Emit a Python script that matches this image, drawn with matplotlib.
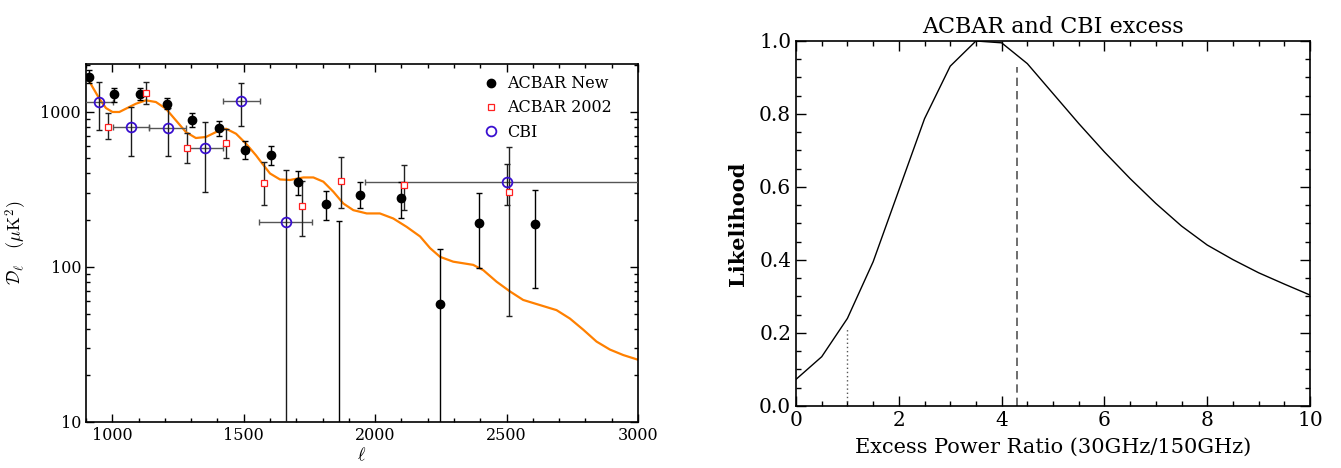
import matplotlib
matplotlib.use('Agg')  # без GUI
import matplotlib.pyplot as plt
from matplotlib.ticker import MultipleLocator, LogLocator, NullFormatter, FixedLocator, FixedFormatter

plt.rcParams['mathtext.fontset'] = 'cm'
plt.rcParams['font.family'] = ['DejaVu Serif']

# --- левая панель: модельный спектр ---
model_l = [900, 925, 951, 976, 1001, 1027, 1052, 1090, 1128, 1166, 1204, 1242, 1280,
           1318, 1356, 1395, 1433, 1471, 1509, 1547, 1566, 1600, 1638, 1676, 1727,
           1765, 1803, 1841, 1879, 1917, 1968, 2018, 2069, 2120, 2171, 2209, 2247,
           2297, 2373, 2411, 2462, 2513, 2563, 2627, 2690, 2741, 2792, 2842, 2893,
           2944, 3003]
model_d = [1718, 1443, 1213, 1056, 996, 996, 1046, 1126, 1184, 1155, 1046, 880, 740,
           677, 687, 740, 777, 721, 622, 523, 474, 400, 366, 363, 377,
           377, 354, 305, 256, 232, 221, 221, 205, 181, 157, 132, 116,
           108, 103, 95.3, 80.2, 69.4, 61.2, 56.7, 52.6, 46.4, 39.3, 33.0, 29.3,
           27.0, 25.1]

# ACBAR New
acbar_new_l = [911, 1005, 1104, 1207, 1304, 1405, 1504, 1603, 1705, 1812, 1862,
               1943, 2097, 2245, 2395, 2607]
acbar_new_d = [1667, 1295, 1295, 1121, 880, 785, 566, 523, 350, 253, 1,
               292, 277, 58, 193, 189]
acbar_new_lo = [1525, 1160, 1190, 1036, 793, 697, 496, 455, 289, 200, 1,
                238, 205, 1, 99, 73]
acbar_new_hi = [1858, 1428, 1430, 1231, 981, 875, 644, 598, 416, 310, 197,
                353, 353, 131, 300, 313]

# ACBAR 2002
acbar02_l = [984, 1127, 1283, 1431, 1578, 1722, 1871, 2109, 2510]
acbar02_d = [800, 1314, 583, 631, 348, 246, 359, 336, 305]
acbar02_lo = [664, 1121, 464, 503, 250, 158, 241, 232, 48]
acbar02_hi = [976, 1547, 732, 777, 476, 359, 508, 453, 594]

# CBI
cbi_l = [951, 1071, 1212, 1351, 1491, 1660, 2500]
cbi_d = [1160, 800, 781, 586, 1172, 194, 353]
cbi_lo = [762, 518, 518, 305, 809, 1, 250]
cbi_hi = [1561, 1077, 1051, 858, 1538, 420, 458]
cbi_lmin = [880, 1001, 1141, 1280, 1420, 1559, 1961]
cbi_lmax = [1001, 1141, 1280, 1420, 1562, 1758, 3100]

# --- правая панель: правдоподобие ---
ratio = [0.0, 0.5, 1.0, 1.5, 2.0, 2.5, 3.0, 3.5, 4.0, 4.5, 5.0,
         5.5, 6.0, 6.5, 7.0, 7.5, 8.0, 8.5, 9.0, 9.5, 10.0]
likelihood = [0.073, 0.135, 0.240, 0.395, 0.591, 0.787, 0.931, 1.0, 0.995, 0.938, 0.856,
              0.774, 0.696, 0.623, 0.555, 0.493, 0.441, 0.401, 0.365, 0.334, 0.304]
dashed_x, dashed_top = 4.3, 0.93
dotted_x, dotted_top = 1.0, 0.21


def _err(vals, lo, hi):
    return [[v - a for v, a in zip(vals, lo)], [b - v for v, b in zip(vals, hi)]]


fig = plt.figure(figsize=(13.41, 4.68), dpi=100)

# ---------- левая панель ----------
ax1 = fig.add_axes([0.0641, 0.0983, 0.4117, 0.7649])
ax1.plot(model_l, model_d, color='#ff8000', linewidth=1.6, zorder=2,
         solid_joinstyle='round')

# CBI: горизонтальные бины серым, вертикальные ошибки чёрным
ax1.errorbar(cbi_l, cbi_d, xerr=_err(cbi_l, cbi_lmin, cbi_lmax),
             fmt='none', ecolor='#555555', elinewidth=1.0, capsize=2.5, zorder=3)
ax1.errorbar(cbi_l, cbi_d, yerr=_err(cbi_d, cbi_lo, cbi_hi),
             fmt='none', ecolor='#1a1a1a', elinewidth=1.0, capsize=2.5, zorder=3)
ax1.errorbar(acbar02_l, acbar02_d, yerr=_err(acbar02_d, acbar02_lo, acbar02_hi),
             fmt='none', ecolor='#222222', elinewidth=1.0, capsize=2.5, zorder=3)
ax1.errorbar(acbar_new_l, acbar_new_d, yerr=_err(acbar_new_d, acbar_new_lo, acbar_new_hi),
             fmt='none', ecolor='black', elinewidth=1.0, capsize=2.5, zorder=3)

ax1.plot(acbar_new_l, acbar_new_d, 'o', color='black', markersize=6,
         label='ACBAR New', zorder=4)
ax1.plot(acbar02_l, acbar02_d, 's', markerfacecolor='white', markeredgecolor='#ff2020',
         markeredgewidth=0.9, markersize=4.5, label='ACBAR 2002', zorder=5)
ax1.plot(cbi_l, cbi_d, 'o', markerfacecolor='none', markeredgecolor='#3a10d0',
         markeredgewidth=1.3, markersize=7, label='CBI', zorder=5)

ax1.set_yscale('log')
ax1.set_xlim(900, 3000)
ax1.set_ylim(10, 2030)
ax1.xaxis.set_major_locator(MultipleLocator(500))
ax1.xaxis.set_minor_locator(MultipleLocator(100))
ax1.yaxis.set_major_locator(FixedLocator([10, 100, 1000]))
ax1.yaxis.set_major_formatter(FixedFormatter(['10', '100', '1000']))
ax1.yaxis.set_minor_locator(LogLocator(base=10, subs=range(2, 10)))
ax1.yaxis.set_minor_formatter(NullFormatter())
ax1.tick_params(which='both', direction='in', top=True, right=True, labelsize=11.5)
ax1.tick_params(which='major', length=6, width=1)
ax1.tick_params(which='minor', length=3, width=1)
for s in ax1.spines.values():
    s.set_linewidth(1.2)
ax1.set_xlabel(r'$\ell$', fontsize=13, labelpad=2)
ax1.set_ylabel(r'$\mathcal{D}_\ell\ \ \ (\mu{\rm K}^2)$', fontsize=13, labelpad=8)

ax1.legend(loc='upper left', bbox_to_anchor=(0.7, 1.0), frameon=False, fontsize=11.5,
           handlelength=0.9, handletextpad=0.6, labelspacing=0.45, borderaxespad=0.3,
           numpoints=1)

# ---------- правая панель ----------
ax2 = fig.add_axes([0.5936, 0.1325, 0.3833, 0.7799])
ax2.plot(ratio, likelihood, color='black', linewidth=1.0)
ax2.plot([dashed_x, dashed_x], [0, dashed_top], color='#555555', linewidth=1.2,
         linestyle=(0, (5, 3)))
ax2.plot([dotted_x, dotted_x], [0, dotted_top], color='#555555', linewidth=1.0,
         linestyle=(0, (1, 2)))

ax2.set_xlim(0, 10)
ax2.set_ylim(0, 1.0)
ax2.xaxis.set_major_locator(MultipleLocator(2))
ax2.xaxis.set_minor_locator(MultipleLocator(0.5))
ax2.yaxis.set_major_locator(MultipleLocator(0.2))
ax2.yaxis.set_minor_locator(MultipleLocator(0.05))
ax2.yaxis.set_major_formatter(matplotlib.ticker.FormatStrFormatter('%.1f'))
ax2.tick_params(which='both', direction='in', top=True, right=True, labelsize=14.5)
ax2.tick_params(which='major', length=7, width=1)
ax2.tick_params(which='minor', length=3.5, width=1)
for s in ax2.spines.values():
    s.set_linewidth(1.2)
ax2.set_title('ACBAR and CBI excess', fontsize=16, pad=6)
ax2.set_xlabel('Excess Power Ratio (30GHz/150GHz)', fontsize=15, labelpad=6)
ax2.set_ylabel('Likelihood', fontsize=15, fontweight='bold', labelpad=8)

fig.savefig('out.png', dpi=100)
plt.close(fig)
